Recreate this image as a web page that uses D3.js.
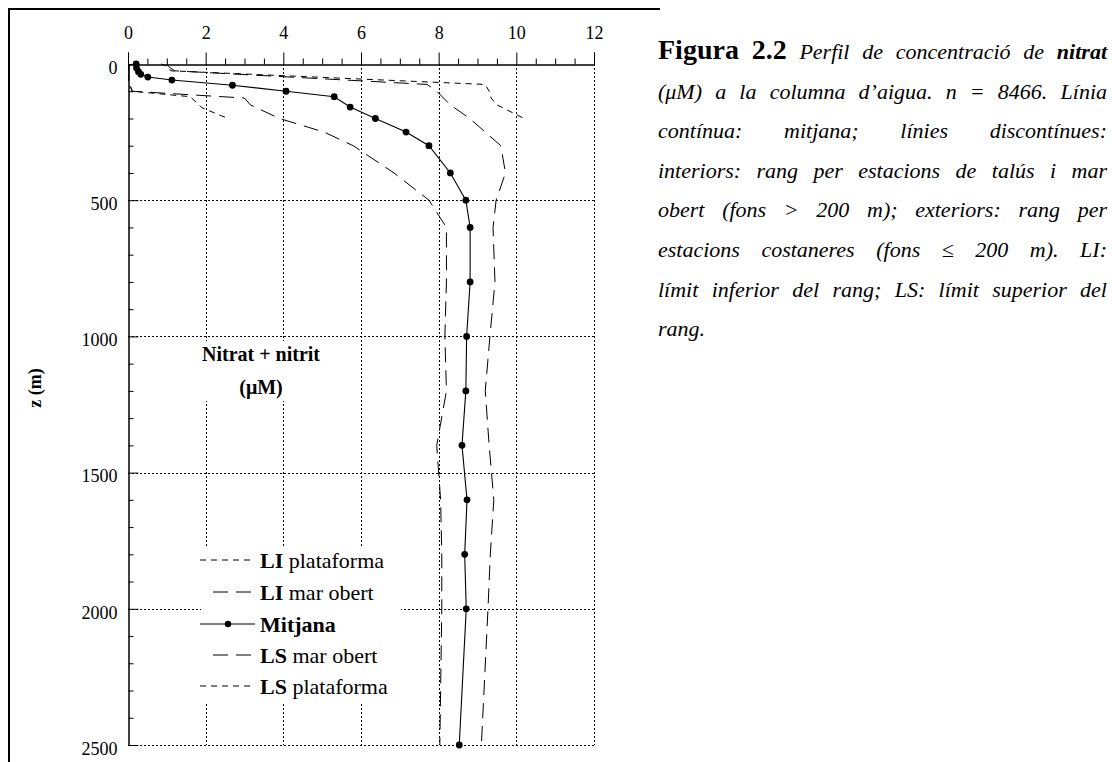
<!DOCTYPE html>
<html>
<head>
<meta charset="utf-8">
<script src="https://cdn.jsdelivr.net/npm/d3@7"></script>
<style>
  html, body { margin: 0; padding: 0; background: #fff; }
  svg { display: block; font-family: "Liberation Serif", "Times New Roman", serif; }
</style>
</head>
<body>
<svg id="chart" width="1112" height="762"></svg>
<script>
// Axis ticks
const xTicks = [0, 2, 4, 6, 8, 10, 12];
const zTicks = [0, 500, 1000, 1500, 2000, 2500];

// Mean nitrate + nitrite profile (µM) against depth (m)
const depthMean = [0, 15, 28, 38, 48, 59, 78, 100, 120, 158, 200, 250, 300, 400, 500, 600, 800, 1000, 1200, 1400, 1600, 1800, 2000, 2500];
const nitratMean = [0.21, 0.22, 0.27, 0.33, 0.51, 1.13, 2.69, 4.07, 5.31, 5.72, 6.37, 7.16, 7.75, 8.30, 8.70, 8.81, 8.81, 8.72, 8.70, 8.60, 8.73, 8.67, 8.71, 8.53];

// Lower limit, coastal (shelf) stations
const depthLIPlat = [0, 75, 100, 120, 160, 190, 200];
const nitratLIPlat = [0.02, 0.02, 0.12, 1.6, 1.9, 2.4, 2.6];

// Lower limit, open-sea stations
const depthLIObert = [0, 50, 100, 125, 150, 200, 250, 300, 400, 500, 600, 800, 1000, 1200, 1400, 1600, 1800, 2000, 2500];
const nitratLIObert = [0.02, 0.02, 0.1, 3.0, 3.15, 3.9, 5.05, 5.8, 6.85, 7.75, 8.2, 8.2, 8.16, 8.2, 7.95, 8.05, 8.08, 8.08, 8.03];

// Upper limit, open-sea stations
const depthLSObert = [0, 10, 25, 75, 100, 150, 200, 250, 300, 400, 500, 600, 800, 1000, 1200, 1400, 1600, 1800, 2000, 2500];
const nitratLSObert = [1.0, 1.05, 1.2, 7.7, 7.95, 8.3, 8.8, 9.2, 9.6, 9.72, 9.48, 9.4, 9.45, 9.32, 9.2, 9.3, 9.42, 9.33, 9.27, 9.1];

// Upper limit, coastal (shelf) stations
const depthLSPlat = [0, 10, 25, 75, 100, 125, 150, 200];
const nitratLSPlat = [0.85, 1.05, 1.1, 9.2, 9.3, 9.35, 9.5, 10.2];

// Legend entries
const legendBold = ["LI", "LI", "Mitjana", "LS", "LS"];
const legendRest = [" plataforma", " mar obert", "", " mar obert", " plataforma"];

// Figure caption (justified block)
const captionLines = [
  [["Figura 2.2", "fig"], ["Perfil de concentració de", "it"], ["nitrat", "bit"]],
  [["(μM) a la columna d’aigua. n = 8466. Línia", "it"]],
  [["contínua: mitjana; línies discontínues:", "it"]],
  [["interiors: rang per estacions de talús i mar", "it"]],
  [["obert (fons > 200 m); exteriors: rang per", "it"]],
  [["estacions costaneres (fons ≤ 200 m). LI:", "it"]],
  [["límit inferior del rang; LS: límit superior del", "it"]],
  [["rang.", "it"]]
];

const svg = d3.select("#chart");

const x = d3.scaleLinear().domain([0, 12]).range([128, 594]);
const y = d3.scaleLinear().domain([0, 2500]).range([64, 745]);

// Outer frame (left and top edges)
svg.append("path")
  .attr("d", "M9,762 V9 H660")
  .attr("fill", "none").attr("stroke", "#000").attr("stroke-width", 2);

// Dotted grid
const grid = svg.append("g").attr("stroke", "#000").attr("stroke-width", 1)
  .attr("stroke-dasharray", "2,2").attr("fill", "none");
xTicks.filter(d => d > 0).forEach(d => {
  grid.append("line")
    .attr("x1", Math.round(x(d)) + 0.5).attr("x2", Math.round(x(d)) + 0.5)
    .attr("y1", y(0)).attr("y2", y(2500));
});
zTicks.filter(d => d > 0).forEach(d => {
  grid.append("line")
    .attr("x1", x(0)).attr("x2", x(12))
    .attr("y1", Math.round(y(d)) + 0.5).attr("y2", Math.round(y(d)) + 0.5);
});

// Top axis: major ticks with labels, minor ticks every 0.5
const minorX = d3.range(0, 12.01, 0.5).filter(d => d % 2 !== 0);
const topMinor = svg.append("g").attr("transform", `translate(0,${y(0) + 0.5})`)
  .call(d3.axisTop(x).tickValues(minorX).tickSize(6).tickFormat(""));
const topMajor = svg.append("g").attr("transform", `translate(0,${y(0) + 0.5})`)
  .call(d3.axisTop(x).tickValues(xTicks).tickSize(12).tickPadding(14).tickFormat(d3.format("d")));

// Left axis: labels outside, ticks inside
const minorZ = d3.range(0, 2501, 100).filter(d => d % 500 !== 0);
const leftMinor = svg.append("g").attr("transform", `translate(${x(0) + 0.5},0)`)
  .call(d3.axisLeft(y).tickValues(minorZ).tickSizeInner(-5).tickSizeOuter(0).tickFormat(""));
const leftMajor = svg.append("g").attr("transform", `translate(${x(0) + 0.5},0)`)
  .call(d3.axisLeft(y).tickValues(zTicks).tickSizeInner(-10).tickSizeOuter(0).tickPadding(11).tickFormat(d3.format("d")));

[topMinor, topMajor, leftMinor, leftMajor].forEach(g => {
  g.selectAll("path, line").attr("stroke", "#000").attr("stroke-width", 1);
  g.selectAll("text").attr("fill", "#000")
    .style("font-family", '"Liberation Serif", "Times New Roman", serif')
    .style("font-size", "18px");
});
leftMajor.selectAll("text").attr("dy", "0.52em");

// Y axis title
svg.append("text")
  .attr("transform", "translate(41,388) rotate(-90)")
  .attr("text-anchor", "middle")
  .style("font-size", "18px").style("font-weight", "bold")
  .text("z (m)");

// Series
const lineGen = (depths, vals) => d3.line()
  .x((d, i) => x(vals[i]))
  .y((d, i) => y(depths[i]))(depths);

const seriesStyle = [
  { depths: depthLIPlat, vals: nitratLIPlat, dash: "6,5" },
  { depths: depthLIObert, vals: nitratLIObert, dash: "15,8" },
  { depths: depthLSObert, vals: nitratLSObert, dash: "15,8" },
  { depths: depthLSPlat, vals: nitratLSPlat, dash: "6,5" }
];
seriesStyle.forEach(s => {
  svg.append("path")
    .attr("d", lineGen(s.depths, s.vals))
    .attr("fill", "none").attr("stroke", "#000").attr("stroke-width", 1)
    .attr("stroke-dasharray", s.dash);
});

svg.append("path")
  .attr("d", lineGen(depthMean, nitratMean))
  .attr("fill", "none").attr("stroke", "#000").attr("stroke-width", 1.1);
svg.append("g").selectAll("circle")
  .data(depthMean)
  .join("circle")
  .attr("cx", (d, i) => x(nitratMean[i]))
  .attr("cy", d => y(d))
  .attr("r", 3.4)
  .attr("fill", "#000");

// Chart title with opaque background
const titleG = svg.append("g");
const titleBg = titleG.append("rect").attr("fill", "#fff");
const titleT = titleG.append("text")
  .attr("text-anchor", "middle")
  .style("font-size", "20px").style("font-weight", "bold");
titleT.append("tspan").attr("x", 261).attr("y", 361).text("Nitrat + nitrit");
titleT.append("tspan").attr("x", 261).attr("y", 394).text("(μM)");
const tb = titleT.node().getBBox();
titleBg.attr("x", tb.x - 4).attr("y", tb.y - 2).attr("width", tb.width + 8).attr("height", tb.height + 4);

// Legend
const legend = svg.append("g");
legend.append("rect").attr("x", 201).attr("y", 546).attr("width", 200).attr("height", 158).attr("fill", "#fff");
const legendDash = ["6,5", "15,8", null, "15,8", "6,5"];
const legendBase = [568, 600, 632, 663, 694];
legendBase.forEach((b, i) => {
  const ly = b - 8;
  const x1 = legendDash[i] === "15,8" ? 213 : 200;
  legend.append("line")
    .attr("x1", x1).attr("x2", 255).attr("y1", ly).attr("y2", ly)
    .attr("stroke", "#000").attr("stroke-width", 1)
    .attr("stroke-dasharray", legendDash[i]);
  if (legendDash[i] === null) {
    legend.append("circle").attr("cx", 228).attr("cy", ly).attr("r", 3.2).attr("fill", "#000");
  }
  const t = legend.append("text").attr("x", 260).attr("y", b).style("font-size", "22px");
  t.append("tspan").style("font-weight", "bold").text(legendBold[i]);
  if (legendRest[i]) t.append("tspan").text(legendRest[i]);
});

// Caption, fully justified except the last line
const capStyle = {
  fig: { weight: "bold", style: "normal", size: 28 },
  it: { weight: "normal", style: "italic", size: 22 },
  bit: { weight: "bold", style: "italic", size: 22 }
};
const capLeft = 658, capRight = 1107;
const cap = svg.append("g");
captionLines.forEach((segs, li) => {
  const baseY = 59 + li * 39.6;
  const words = [];
  segs.forEach(([txt, st]) => txt.split(" ").forEach(w => words.push({ w, st })));
  const nodes = words.map(o => {
    const s = capStyle[o.st];
    const n = cap.append("text").attr("y", baseY)
      .style("font-size", s.size + "px").style("font-weight", s.weight).style("font-style", s.style)
      .text(o.w);
    return { n, len: n.node().getComputedTextLength() };
  });
  const total = d3.sum(nodes, d => d.len);
  const last = li === captionLines.length - 1;
  const gap = last || nodes.length < 2 ? 5 : (capRight - capLeft - total) / (nodes.length - 1);
  let cx = capLeft;
  nodes.forEach(d => { d.n.attr("x", cx); cx += d.len + gap; });
});
</script>
</body>
</html>
